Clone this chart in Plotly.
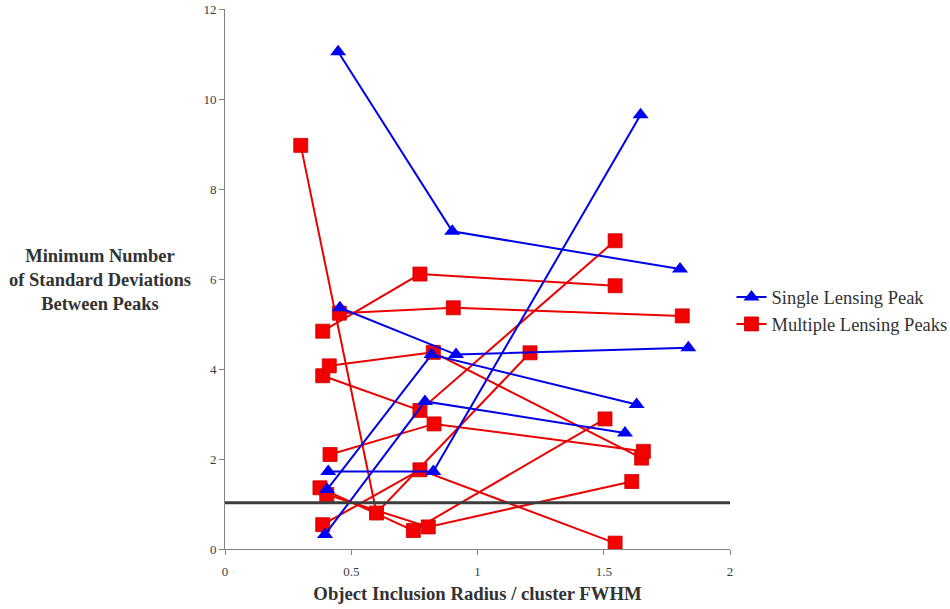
import plotly.graph_objects as go

# Single Lensing Peak (blue) – each object has three inclusion radii
single_x = [
    [0.448, 0.900, 1.802],
    [0.409, 0.825, 1.646],
    [0.404, 0.818, 1.630],
    [0.396, 0.792, 1.584],
    [0.455, 0.915, 1.835],
]
single_y = [
    [11.05, 7.06, 6.22],
    [1.72, 1.72, 9.65],
    [1.32, 4.32, 3.21],
    [0.32, 3.28, 2.58],
    [5.36, 4.32, 4.47],
]

# Multiple Lensing Peaks (red)
multi_x = [
    [0.300, 0.600, 1.208],
    [0.387, 0.772, 1.545],
    [0.453, 0.904, 1.811],
    [0.387, 0.772, 1.545],
    [0.413, 0.825, 1.650],
    [0.416, 0.828, 1.657],
    [0.387, 0.772, 1.545],
    [0.376, 0.746, 1.505],
    [0.403, 0.805, 1.611],
]
multi_y = [
    [8.97, 0.80, 4.36],
    [4.84, 6.11, 5.85],
    [5.24, 5.36, 5.18],
    [3.85, 3.08, 6.85],
    [4.07, 4.37, 2.02],
    [2.10, 2.78, 2.17],
    [0.54, 1.76, 0.13],
    [1.36, 0.41, 2.89],
    [1.21, 0.49, 1.50],
]

threshold = 1.03
x_ticks = [0, 0.5, 1, 1.5, 2]
x_tick_text = ["0", "0.5", "1", "1.5", "2"]
y_ticks = [0, 2, 4, 6, 8, 10, 12]
y_tick_text = ["0", "2", "4", "6", "8", "10", "12"]

SERIF = "Liberation Serif"
BLUE = "rgb(0,0,230)"
RED = "rgb(235,0,0)"

fig = go.Figure()

for i, (xs, ys) in enumerate(zip(multi_x, multi_y)):
    fig.add_trace(go.Scatter(
        x=xs, y=ys, mode="lines+markers",
        line=dict(color=RED, width=2),
        marker=dict(symbol="square", size=14, color="rgb(245,0,0)",
                    line=dict(color="rgb(200,0,0)", width=0.8)),
        name="Multiple Lensing Peaks", legendgroup="m",
        showlegend=(i == 0), legendrank=2,
    ))

for i, (xs, ys) in enumerate(zip(single_x, single_y)):
    fig.add_trace(go.Scatter(
        x=xs, y=ys, mode="lines+markers",
        line=dict(color=BLUE, width=2),
        marker=dict(symbol="triangle-up", size=14, color="rgb(0,0,245)"),
        name="Single Lensing Peak", legendgroup="s",
        showlegend=(i == 0), legendrank=1,
    ))

fig.add_shape(type="line", xref="x", yref="y", x0=0, x1=2,
              y0=threshold, y1=threshold,
              line=dict(color="rgb(60,60,60)", width=3), layer="above")

fig.add_annotation(
    text="<b>Minimum Number<br>of Standard Deviations<br>Between Peaks</b>",
    xref="paper", yref="paper", x=-0.248, y=0.499, xanchor="center", yanchor="middle",
    showarrow=False, align="center",
    font=dict(family=SERIF, size=18.5, color="rgb(50,50,50)"),
)

fig.update_layout(
    width=950, height=609,
    margin=dict(l=225, r=220, t=9, b=60, autoexpand=False),
    plot_bgcolor="white", paper_bgcolor="white",
    font=dict(family=SERIF, color="rgb(60,60,60)"),
    xaxis=dict(
        range=[0, 2], tickvals=x_ticks, ticktext=x_tick_text,
        showgrid=False, zeroline=False, showline=True, automargin=False,
        linecolor="rgb(130,130,130)", linewidth=1,
        ticks="outside", ticklen=5, tickcolor="rgb(130,130,130)",
        ticklabelstandoff=5,
        tickfont=dict(family=SERIF, size=13, color="rgb(60,60,60)"),
        title=dict(text="<b>Object Inclusion Radius / cluster FWHM</b>",
                   font=dict(family=SERIF, size=18.7, color="rgb(50,50,50)"),
                   standoff=9),
    ),
    yaxis=dict(
        range=[0, 12], tickvals=y_ticks, ticktext=y_tick_text,
        showgrid=False, zeroline=False, showline=True, automargin=False,
        linecolor="rgb(130,130,130)", linewidth=1,
        ticks="outside", ticklen=5, tickcolor="rgb(130,130,130)",
        tickfont=dict(family=SERIF, size=13, color="rgb(60,60,60)"),
    ),
    legend=dict(
        x=1.003, y=0.441, xanchor="left", yanchor="middle",
        font=dict(family=SERIF, size=18.5, color="rgb(50,50,50)"),
        itemwidth=30, tracegroupgap=0, bgcolor="rgba(0,0,0,0)",
    ),
    showlegend=True,
)

fig.write_html("out.html")
